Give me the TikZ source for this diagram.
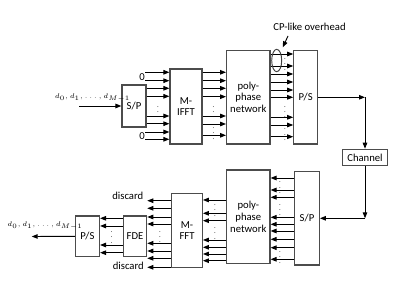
\documentclass[tikz,border=0pt]{standalone}
\usepackage{fontspec}
\setmainfont{Carlito}
\usetikzlibrary{arrows.meta,positioning,shapes.geometric}
\tikzset{
  blk/.style = {draw=black!70, line width=0.9pt, rectangle, align=center, inner sep=1pt, font=\fontsize{8}{8.8}\selectfont},
  arrow/.style = {line width=0.7pt, -{Triangle[length=4.5pt,width=3.4pt]}},
  lbl/.style = {inner sep=0pt, font=\fontsize{8}{9}\selectfont},
  dlbl/.style = {inner sep=0pt, font=\fontsize{5.5}{6.5}\selectfont},
  vd/.style = {inner sep=0pt, font=\tiny}
}
\begin{document}
\begin{tikzpicture}[x=0.75pt, y=-0.75pt]
  \useasboundingbox (0,0) rectangle (406,291);
  % transmitter
  \node[blk, minimum width=18pt, minimum height=31.5pt] (sp1) at (134,106) {S/P};
  \node[blk, minimum width=24pt, minimum height=56.25pt] (ifft) at (186,106.5) {M-\\IFFT};
  \node[blk, minimum width=32.5pt, minimum height=70pt] (pp1) at (248.3,97.3) {poly-\\phase\\network};
  \node[blk, minimum width=17.8pt, minimum height=70pt, right=17pt of pp1] (ps1) {P/S};
  \node[blk, minimum width=33.5pt, minimum height=12.3pt] (chan) at (365,157.5) {Channel};
  % receiver
  \node[blk, minimum width=32.5pt, minimum height=70pt] (pp2) at (248.3,216.7) {poly-\\phase\\network};
  \node[blk, minimum width=18.5pt, minimum height=70pt] (sp2) at (307,218.3) {S/P};
  \node[blk, minimum width=23pt, minimum height=55.8pt] (fft) at (187,230.5) {M-\\FFT};
  \node[blk, minimum width=17.5pt, minimum height=30.5pt] (fde) at (135,236.3) {FDE};
  \node[blk, minimum width=18pt, minimum height=30.5pt, left=17pt of fde] (ps2) {P/S};

  % input side
  \coordinate (din) at (79,106);
  \node[dlbl] (dinl) at (92.5,97.5) {$d_0, d_1,\ldots, d_{M-1}$};
  \draw[arrow] (din) -- (sp1);
  \node[lbl, anchor=east] (zt) at (145,77.5) {0};
  \node[lbl, anchor=east] (zb) at (145,136) {0};
  \foreach \y in {72.3,80.7} \draw[arrow] (0,\y -| zt.east) -- (0,\y -| ifft.west);
  \foreach \y in {88.3,96.3,116,123.7} \draw[arrow] (0,\y -| sp1.east) -- (0,\y -| ifft.west);
  \foreach \y in {132,139.3} \draw[arrow] (0,\y -| zb.east) -- (0,\y -| ifft.west);
  \node[vd] (v1) at (158,108) {$\vdots$};
  \foreach \y in {72.3,80.7,88.3,96.7,116,124,135.3} \draw[arrow] (0,\y -| ifft.east) -- (0,\y -| pp1.west);
  \foreach \y/\n in {108/2,129.5/3} \node[vd] (v\n) at (213.5,\y) {$\vdots$};
  \foreach \y in {54,66,74,82,90,97.3,117.3,125,136.7} \draw[arrow] (0,\y -| pp1.east) -- (0,\y -| ps1.west);
  \foreach \y/\n in {60.5/4,108/5,130.8/6} \node[vd] (v\n) at (285,\y) {$\vdots$};
  \node[draw=black!75, line width=0.7pt, ellipse, minimum width=7.5pt, minimum height=16.8pt, inner sep=0pt] (cp) at (276.7,60.5) {};
  \node[lbl] (cpl) at (309.5,27) {CP-like overhead};
  \coordinate (cpt) at (288,36);
  \draw[arrow, shorten >=4pt] (cpt) -- (cp);

  % channel
  \coordinate (c1) at (365,97.3);
  \coordinate (c2) at (365,218.3);
  \draw[arrow] (ps1) -- (c1);
  \draw[arrow] (c1) -- (chan);
  \draw[arrow] (chan) -- (c2);
  \draw[arrow] (c2) -- (sp2);

  % output side
  \foreach \y in {178,190,197.3,217.3,224.3,231,239.3,247.7,259.3} \draw[arrow] (0,\y -| sp2.west) -- (0,\y -| pp2.east);
  \foreach \y/\n in {183.8/7,206/8,253.5/9} \node[vd] (v\n) at (280,\y) {$\vdots$};
  \foreach \y in {200,213.3,220.7,240,247.3,254,260.7} \draw[arrow] (0,\y -| pp2.west) -- (0,\y -| fft.east);
  \foreach \y/\n in {206.5/10,229.5/11} \node[vd] (v\n) at (215,\y) {$\vdots$};
  \foreach \y in {200.7,208.3,217,224,243.3,251,258.3,267.3} \draw[arrow] (0,\y -| fft.west) -- (0,\y -| fde.east);
  \node[lbl, anchor=east] (dtop) at (143.5,195.5) {discard};
  \node[lbl, anchor=east] (dbot) at (144,266) {discard};
  \node[vd] (v12) at (160,233) {$\vdots$};
  \foreach \y in {218.3,226,245,252.7} \draw[arrow] (0,\y -| fde.west) -- (0,\y -| ps2.east);
  \node[vd] (v13) at (111.7,233.5) {$\vdots$};
  \coordinate (dout) at (31.7,236.5);
  \draw[arrow] (ps2) -- (dout);
  \node[dlbl] (doutl) at (45,226) {$d_0, d_1,\ldots, d_{M-1}$};
\end{tikzpicture}
\end{document}
